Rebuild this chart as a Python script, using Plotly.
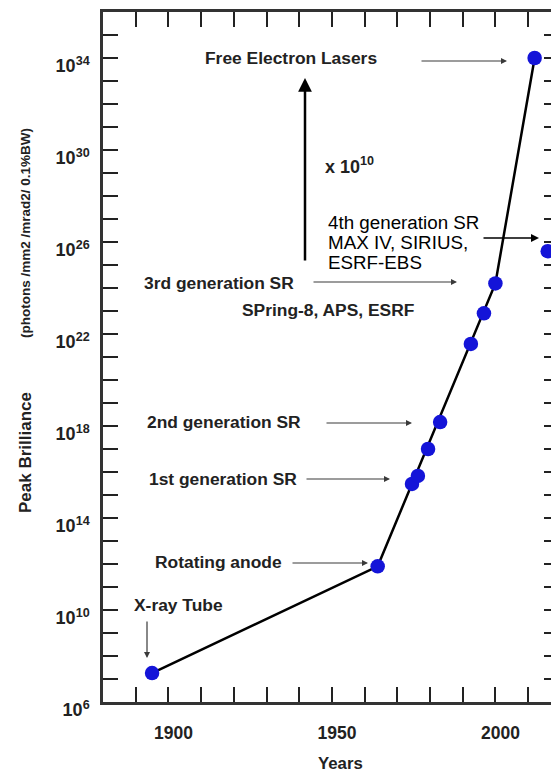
import plotly.graph_objects as go

# ---- data ----
source_years = [1895, 1964, 1974.5, 1976.3, 1979.4, 1983.1, 1992.5, 1996.5, 2000, 2012, 2016]
source_log_brilliance = [7.26, 11.9, 15.48, 15.83, 17.0, 18.17, 21.57, 22.9, 24.2, 34.0, 25.6]
trend_years = [1895, 1964, 2000, 2012]
trend_log_brilliance = [7.26, 11.9, 24.2, 34.0]

x_label_years = [1900, 1950, 2000]
x_minor_years = list(range(1880, 2021, 10))
y_label_exponents = [6, 10, 14, 18, 22, 26, 30, 34]
y_minor_exponents = list(range(6, 37))

source_brilliance = [10.0 ** v for v in source_log_brilliance]
trend_brilliance = [10.0 ** v for v in trend_log_brilliance]

BOLD = "Liberation Sans, Arial, sans-serif"
REG = "Liberation Sans, Arial, sans-serif"
INK = "#222222"

fig = go.Figure()
fig.add_trace(go.Scatter(x=trend_years, y=trend_brilliance, mode="lines",
                         line=dict(color="black", width=2.5), hoverinfo="skip"))
fig.add_trace(go.Scatter(x=source_years, y=source_brilliance, mode="markers",
                         marker=dict(color="#1414d8", size=14.5, line=dict(width=0))))

# page has an 8px body margin; coordinates below are window pixels
OFF = 8
W, H = 559 - OFF, 772 - OFF
L, R, T, B = 103, 559, 12, 702
def PX(x):
    return (x - L) / (R - L)
def PY(y):
    return (B - y) / (B - T)

ann = []
def label(text, x, y, size=17.4, xanchor="left", font=BOLD, weight="bold", color=INK, angle=0):
    ann.append(dict(text=text, x=PX(x), y=PY(y), xref="paper", yref="paper",
                    xanchor=xanchor, yanchor="middle", showarrow=False, textangle=angle,
                    font=dict(family=font, size=size, color=color, weight=weight)))

def arrow(hx, hy, tx, ty, color="#3a3a3a", width=1.2, head=2, size=1.0):
    ann.append(dict(text="", x=PX(hx), y=PY(hy), xref="paper", yref="paper",
                    ax=tx - hx, ay=ty - hy, axref="pixel", ayref="pixel",
                    showarrow=True, arrowhead=head, arrowsize=size, arrowwidth=width,
                    arrowcolor=color, standoff=0, startstandoff=0))

label("Free Electron Lasers", 291, 58, xanchor="center")
arrow(507, 61, 420, 61)
arrow(305, 78, 305, 262, color="black", width=2.5, head=2, size=1.1)
label("x 10<sup>10</sup>", 349, 165, size=18, xanchor="center")
label("4th generation SR", 326, 222, size=18.8, font=REG, weight="normal", color="black")
label("MAX IV, SIRIUS,", 326, 242, size=18.8, font=REG, weight="normal", color="black")
label("ESRF-EBS", 326, 263, size=18.8, font=REG, weight="normal", color="black")
arrow(539, 238, 482, 238, color="black", width=1.6)
label("3rd generation SR", 142, 283)
arrow(457, 282, 312, 282)
label("SPring-8, APS, ESRF", 240, 310)
label("2nd generation SR", 145, 422)
arrow(412, 423, 325, 423)
label("1st generation SR", 147, 479)
arrow(390, 479, 305, 479)
label("Rotating anode", 153, 562)
arrow(368, 563, 291, 563)
label("X-ray Tube", 132, 605)
arrow(147, 658, 147, 620)

label("Years", 340, 763, size=16.8, xanchor="center")
label("Peak Brilliance", 25, 453, size=17, xanchor="center", angle=-90)
label("(photons /mm2 /mrad2/ 0.1%BW)", 25, 233, size=13.5, xanchor="center", angle=-90)

tick_style = dict(ticks="inside", ticklen=15, tickwidth=2, tickcolor=INK)

fig.update_layout(
    width=W, height=H,
    margin=dict(l=L - OFF, r=(OFF + W) - R, t=T - OFF, b=(OFF + H) - B, autoexpand=False),
    paper_bgcolor="white", plot_bgcolor="white",
    showlegend=False,
    annotations=ann,
    xaxis=dict(
        range=[1880, 1880 + (R - L) / 3.27],
        tickmode="array", tickvals=x_label_years,
        ticktext=[str(y) for y in x_label_years],
        minor=dict(tickmode="array", tickvals=x_minor_years, **tick_style),
        showline=True, linewidth=2.5, linecolor="#333333", mirror="ticks",
        showgrid=False, zeroline=False,
        tickfont=dict(family=BOLD, size=17.5, color=INK, weight="bold"),
        ticklabelshift=5, ticklabelstandoff=13,
        **tick_style,
    ),
    yaxis=dict(
        type="log", range=[6, 36],
        tickmode="array", tickvals=[10.0 ** e for e in y_label_exponents],
        ticktext=["10<sup>%d</sup>" % e for e in y_label_exponents],
        minor=dict(tickmode="array", tickvals=[10.0 ** e for e in y_minor_exponents], **tick_style),
        showline=True, linewidth=2.5, linecolor="#333333", mirror="ticks",
        showgrid=False, zeroline=False,
        tickfont=dict(family=BOLD, size=18, color=INK, weight="bold"),
        ticklabelshift=8, ticklabelstandoff=7,
        **tick_style,
    ),
)

fig.write_html("out.html")
